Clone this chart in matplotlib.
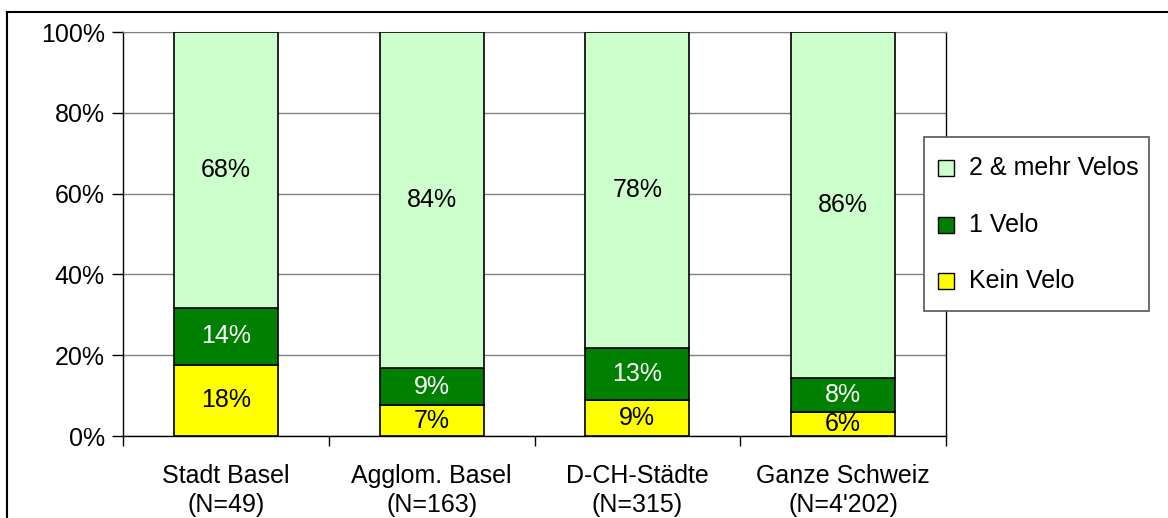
import numpy as np
import matplotlib
matplotlib.use("Agg")
import matplotlib.pyplot as plt
from matplotlib.lines import Line2D
from matplotlib.patches import Rectangle

plt.rcParams['font.family'] = ['Liberation Sans', 'DejaVu Sans']

categories = ["Stadt Basel\n(N=49)", "Agglom. Basel\n(N=163)",
              "D-CH-Städte\n(N=315)", "Ganze Schweiz\n(N=4'202)"]
kein_velo = [17.6, 7.6, 8.8, 5.9]
ein_velo = [14.1, 9.2, 12.9, 8.5]
zwei_mehr = [68.3, 83.2, 78.3, 85.6]
kein_lbl = ["18%", "7%", "9%", "6%"]
ein_lbl = ["14%", "9%", "13%", "8%"]
zwei_lbl = ["68%", "84%", "78%", "86%"]

W, H = 1168, 518
fig = plt.figure(figsize=(W / 100, H / 100), dpi=100)
ax = fig.add_axes([123 / W, (H - 436) / H, 823 / W, 404 / H])


def fx(px):
    return px / W


def fy(py):
    return 1 - py / H


x = np.arange(len(categories))
bw = 0.505
fs = 18

series = [
    (kein_velo, kein_lbl, "#ffff00", "black", "Kein Velo"),
    (ein_velo, ein_lbl, "#008000", "white", "1 Velo"),
    (zwei_mehr, zwei_lbl, "#ccffcc", "black", "2 & mehr Velos"),
]
bottom = np.zeros(len(categories))
for vals, lbls, col, tcol, name in series:
    vals = np.array(vals)
    ax.bar(x, vals, bw, bottom=bottom, color=col, edgecolor="black",
           linewidth=1.2, label=name, zorder=3)
    for xi, v, bt, lb in zip(x, vals, bottom, lbls):
        ax.text(xi, bt + v / 2, lb, ha="center", va="center",
                fontsize=fs, color=tcol, zorder=4)
    bottom = bottom + vals

ax.set_xlim(-0.5, len(categories) - 0.5)
ax.set_ylim(0, 100)
ax.set_yticks(np.arange(0, 101, 20))
ax.set_yticklabels([f"{v}%" for v in range(0, 101, 20)], fontsize=fs)
ax.yaxis.grid(True, color="#808080", linewidth=1, zorder=0)
ax.set_xticks(np.arange(-0.5, len(categories), 1.0))
ax.set_xticklabels([])
ax.set_xticks(x, minor=True)
ax.set_xticklabels(categories, minor=True, fontsize=fs, linespacing=1.3)
ax.tick_params(axis="x", which="minor", length=0, pad=20)
ax.tick_params(axis="x", which="major", length=7, width=1, direction="out")
ax.tick_params(axis="y", length=8, width=1, direction="out", pad=5)
for s in ["left", "bottom", "right"]:
    ax.spines[s].set_color("black")
    ax.spines[s].set_linewidth(1)
ax.spines["top"].set_color("#808080")

# legend drawn by hand to match the boxed Excel-style legend
fig.add_artist(Rectangle((fx(924), fy(311)), fx(1149) - fx(924), fy(137) - fy(311),
                         transform=fig.transFigure, facecolor="white",
                         edgecolor="#555555", linewidth=1.2))
for (vals, lbls, col, tcol, name), yc in zip(series[::-1], [168, 225, 281]):
    fig.add_artist(Rectangle((fx(938), fy(yc + 8)), fx(954) - fx(938), fy(yc - 8) - fy(yc + 8),
                             transform=fig.transFigure, facecolor=col,
                             edgecolor="black", linewidth=1))
    fig.text(fx(969), fy(yc), name, fontsize=fs, ha="left", va="center")

fig.add_artist(Line2D([fx(7), fx(7)], [0, fy(11.5)], color="black",
                      linewidth=1.5, transform=fig.transFigure))
fig.add_artist(Line2D([fx(7), 1], [fy(11.5), fy(11.5)], color="black",
                      linewidth=1.5, transform=fig.transFigure))

fig.savefig("out.png", dpi=100)
